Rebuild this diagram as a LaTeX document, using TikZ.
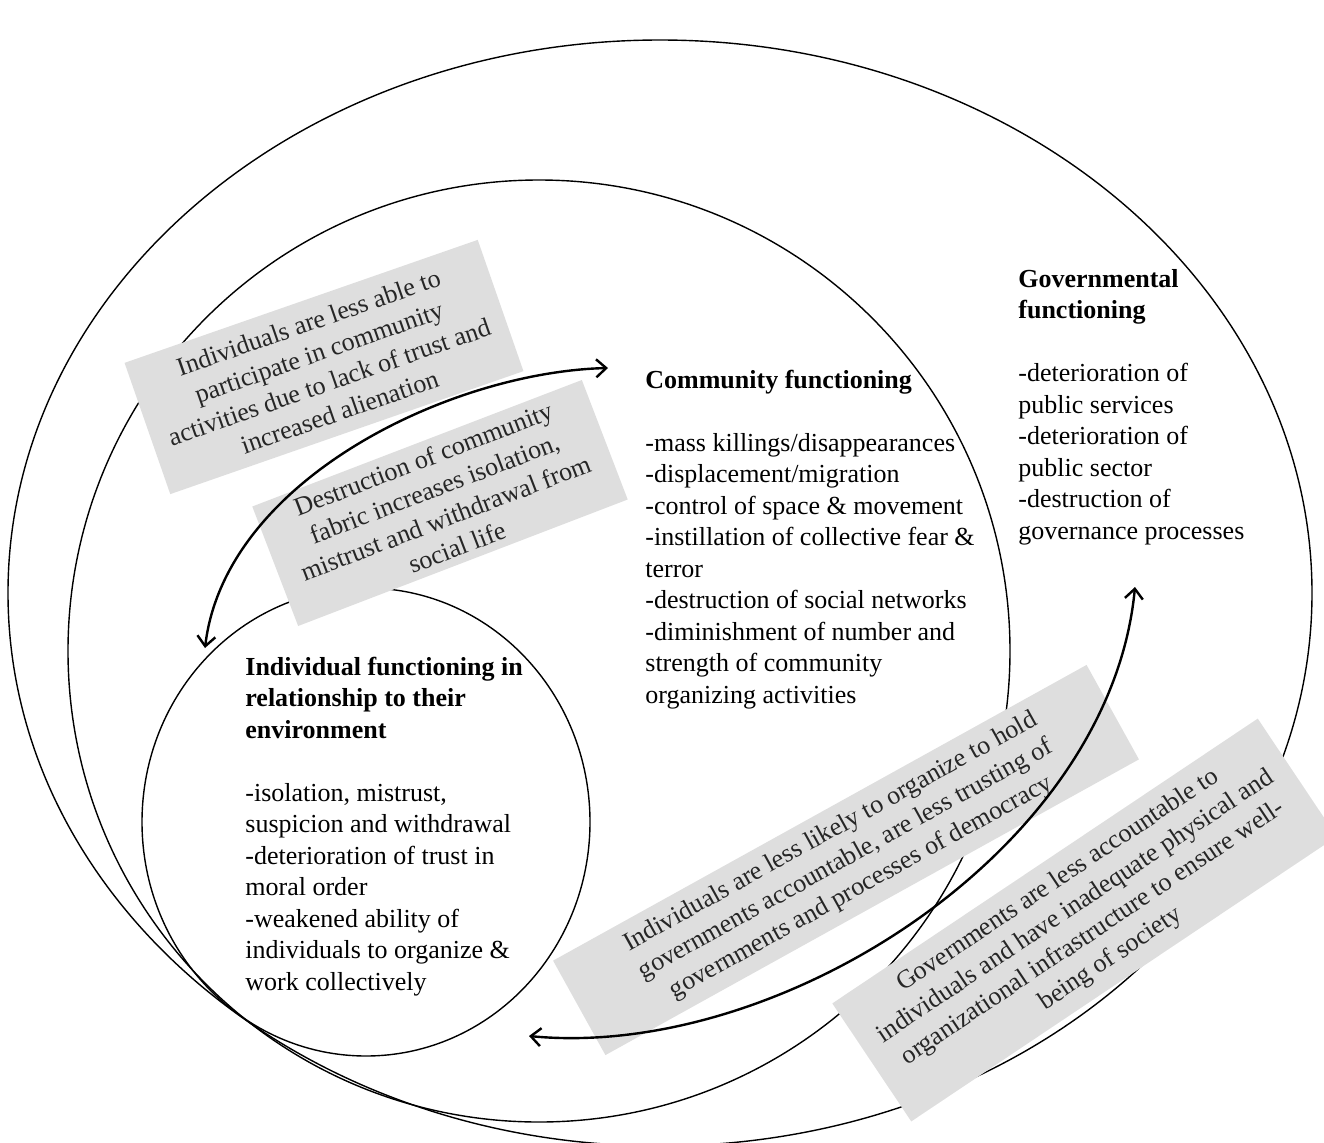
\documentclass[tikz,border=0pt]{standalone}
\usepackage{fontspec}
\setmainfont{Liberation Serif}
\usetikzlibrary{arrows.meta,shapes.geometric}
\definecolor{boxgray}{RGB}{222,222,222}
\begin{document}
\begin{tikzpicture}[x=0.5pt,y=-0.5pt,
  ring/.style={draw, ellipse, line width=0.7pt, inner sep=0pt, outer sep=0pt},
  graybox/.style={fill=boxgray, inner sep=0pt, align=center,
    font=\fontsize{13}{15.75}\selectfont, text=black!85},
  block/.style={anchor=base west, inner sep=0pt, font=\fontsize{13}{15.75}\selectfont},
  flow/.style={line width=1.2pt, >={Straight Barb[length=5pt,width=9pt]}, <->}
]
\useasboundingbox (0,0) rectangle (1324,1142);

% nested spheres
\node[ring, minimum width=652pt, minimum height=553pt] (outer) at (660,593) {};
\node[ring, minimum width=471pt, minimum height=471pt] (middle) at (539,651) {};
\node[ring, minimum width=224pt, minimum height=234pt] (inner) at (366,822) {};

% grey explanation boxes
\node[graybox, rotate=19.2, minimum width=187pt, minimum height=69.5pt] (box1) at (324,367)
  {Individuals are less able to\\participate in community\\activities due to lack of trust and\\increased alienation};
\node[graybox, rotate=21, minimum width=176.5pt, minimum height=64pt] (box2) at (440,503)
  {Destruction of community\\fabric increases isolation,\\mistrust and withdrawal from\\social life};
\node[graybox, rotate=29, minimum width=305pt, minimum height=54pt] (box3) at (846,860)
  {Individuals are less likely to organize to hold\\governments accountable, are less trusting of\\governments and processes of democracy};
\node[graybox, rotate=33.8, minimum width=256pt, minimum height=71pt] (box4) at (1084.5,920)
  {Governments are less accountable to\\individuals and have inadequate physical and\\organizational infrastructure to ensure well-\\being of society};

% arrows
\coordinate (aTop) at (608,368);
\coordinate (aBot) at (205,648);
\draw[flow] (aTop) .. controls (450,372) and (225,480) .. (aBot);
\coordinate (bLeft) at (529,1036);
\coordinate (bTop) at (1135,587);
\draw[flow] (bLeft) .. controls (780,1060) and (1110,850) .. (bTop);

% text blocks
\node[block] (gov) at (1018,287) {\begin{minipage}[t]{140pt}\raggedright
\textbf{Governmental}\\\textbf{functioning}\\[15.75pt]
-deterioration of\\public services\\-deterioration of\\public sector\\-destruction of\\governance processes\end{minipage}};

\node[block] (com) at (645,388) {\begin{minipage}[t]{190pt}\raggedright
\textbf{Community functioning}\\[15.75pt]
-mass killings/disappearances\\-displacement/migration\\-control of space \& movement\\-instillation of collective fear \&\\terror\\-destruction of social networks\\-diminishment of number and\\strength of community\\organizing activities\end{minipage}};

\node[block] (ind) at (245,675) {\begin{minipage}[t]{170pt}\raggedright
\textbf{Individual functioning in}\\\textbf{relationship to their}\\\textbf{environment}\\[15.75pt]
-isolation, mistrust,\\suspicion and withdrawal\\-deterioration of trust in\\moral order\\-weakened ability of\\individuals to organize \&\\work collectively\end{minipage}};
\end{tikzpicture}
\end{document}
